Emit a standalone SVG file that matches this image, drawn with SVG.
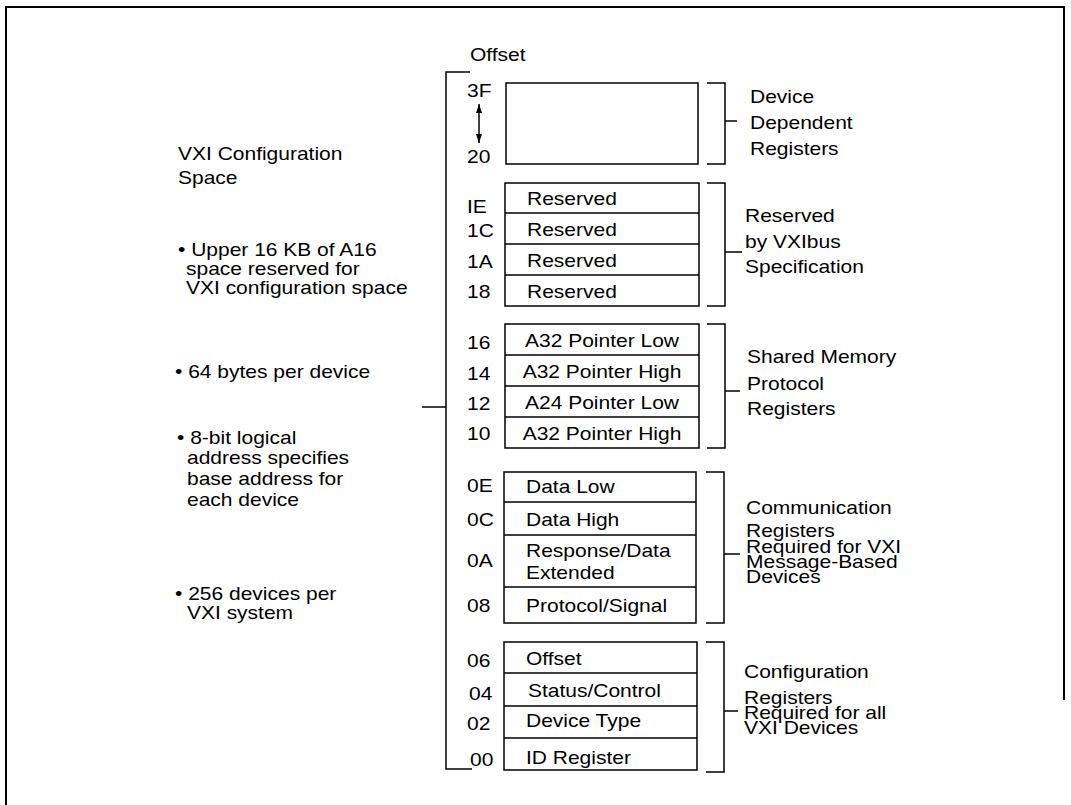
<svg xmlns="http://www.w3.org/2000/svg" width="1071" height="805" viewBox="0 0 1071 805">
<style>
.ln{stroke:#000;stroke-width:1.5;fill:none}
.box{fill:#fff;stroke:#000;stroke-width:1.5}
.frame{stroke:#000;stroke-width:2;fill:none}
text{font-family:"Liberation Sans",Arial,sans-serif;font-size:17.5px;fill:#000}
.m{text-anchor:middle}
</style>
<defs>
<marker id="ah" viewBox="0 0 9 6" refX="9" refY="3" markerWidth="9" markerHeight="6" markerUnits="userSpaceOnUse" orient="auto-start-reverse" preserveAspectRatio="none"><path d="M0,0 L9,3 L0,6 z" fill="#000"/></marker>
</defs>
<rect width="1071" height="805" fill="#fff"/>
<path class="frame" d="M6,805 V7 H1064 V700"/>

<g id="connectors">
<path class="ln" d="M470,72 H446 V769 H472"/>
<path class="ln" d="M422,407 H446"/>
<line class="ln" x1="479" y1="104" x2="479" y2="143" marker-start="url(#ah)" marker-end="url(#ah)"/>
<path class="ln" d="M707,83 H725 V164 H707 M725,121 H737"/>
<path class="ln" d="M707,183 H725 V306 H707 M725,252 H742"/>
<path class="ln" d="M707,324 H725 V448 H707 M725,391 H740"/>
<path class="ln" d="M706,472 H724 V623 H706 M724,554 H740"/>
<path class="ln" d="M706,642 H724 V772 H706 M724,711 H738"/>
</g>

<g id="left-notes"><g transform="scale(1.2 1)">
<text x="148.33" y="160">VXI Configuration</text>
<text x="148.33" y="184">Space</text>
<text x="148.33" y="256">• Upper 16 KB of A16</text>
<text x="155" y="275">space reserved for</text>
<text x="155" y="294">VXI configuration space</text>
<text x="145.83" y="378">• 64 bytes per device</text>
<text x="147.5" y="444">• 8-bit logical</text>
<text x="155.83" y="464">address specifies</text>
<text x="155.83" y="485">base address for</text>
<text x="155.83" y="506">each device</text>
<text x="145.83" y="600">• 256 devices per</text>
<text x="155.83" y="619">VXI system</text>
</g></g>

<g id="offset-title"><g transform="scale(1.2 1)"><text x="391.67" y="61">Offset</text></g></g>

<g id="device-dependent">
<rect class="box" x="506" y="83" width="192" height="81"/>
<g transform="scale(1.2 1)">
<text x="389.17" y="97">3F</text>
<text x="389.17" y="163">20</text>
<text x="625" y="103">Device</text>
<text x="625" y="129">Dependent</text>
<text x="625" y="155">Registers</text>
</g>
</g>

<g id="reserved">
<rect class="box" x="505" y="183" width="194" height="123"/>
<path class="ln" d="M505,213 H699 M505,244 H699 M505,275 H699"/>
<g transform="scale(1.2 1)">
<text x="439.17" y="205">Reserved</text>
<text x="439.17" y="236">Reserved</text>
<text x="439.17" y="267">Reserved</text>
<text x="439.17" y="298">Reserved</text>
<text x="389.17" y="213">IE</text>
<text x="389.17" y="237">1C</text>
<text x="389.17" y="268">1A</text>
<text x="389.17" y="298">18</text>
<text x="620.83" y="222">Reserved</text>
<text x="620.83" y="248">by VXIbus</text>
<text x="620.83" y="273">Specification</text>
</g>
</g>

<g id="shared-memory">
<rect class="box" x="505" y="324" width="194" height="124"/>
<path class="ln" d="M505,355 H699 M505,386 H699 M505,417 H699"/>
<g transform="scale(1.2 1)">
<text class="m" x="501.67" y="347">A32 Pointer Low</text>
<text class="m" x="501.67" y="378">A32 Pointer High</text>
<text class="m" x="501.67" y="409">A24 Pointer Low</text>
<text class="m" x="501.67" y="440">A32 Pointer High</text>
<text x="389.17" y="349">16</text>
<text x="389.17" y="380">14</text>
<text x="389.17" y="410">12</text>
<text x="389.17" y="440">10</text>
<text x="622.5" y="363">Shared Memory</text>
<text x="622.5" y="390">Protocol</text>
<text x="622.5" y="415">Registers</text>
</g>
</g>

<g id="communication">
<rect class="box" x="504" y="472" width="192" height="151"/>
<path class="ln" d="M504,502 H696 M504,535 H696 M504,587 H696"/>
<g transform="scale(1.2 1)">
<text x="438.33" y="493">Data Low</text>
<text x="438.33" y="526">Data High</text>
<text x="438.33" y="557">Response/Data</text>
<text x="438.33" y="579">Extended</text>
<text x="438.33" y="612">Protocol/Signal</text>
<text x="389.17" y="492">0E</text>
<text x="389.17" y="526">0C</text>
<text x="389.17" y="567">0A</text>
<text x="389.17" y="612">08</text>
<text x="621.67" y="514">Communication</text>
<text x="621.67" y="537">Registers</text>
<text x="621.67" y="553">Required for VXI</text>
<text x="621.67" y="568">Message-Based</text>
<text x="621.67" y="583">Devices</text>
</g>
</g>

<g id="configuration">
<rect class="box" x="504" y="642" width="193" height="128"/>
<path class="ln" d="M504,673 H697 M504,706 H697 M504,738 H697"/>
<g transform="scale(1.2 1)">
<text x="438.33" y="665">Offset</text>
<text x="440" y="697">Status/Control</text>
<text x="438.33" y="727">Device Type</text>
<text x="438.33" y="764">ID Register</text>
<text x="389.17" y="667">06</text>
<text x="390.83" y="700">04</text>
<text x="389.17" y="730">02</text>
<text x="391.67" y="766">00</text>
<text x="620" y="678">Configuration</text>
<text x="620" y="704">Registers</text>
<text x="620" y="719">Required for all</text>
<text x="620" y="734">VXI Devices</text>
</g>
</g>
</svg>
